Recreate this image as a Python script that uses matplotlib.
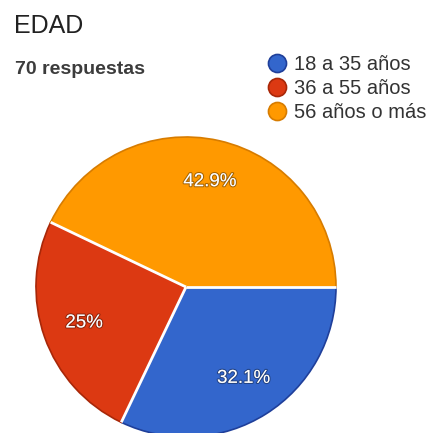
import numpy as np
import matplotlib
matplotlib.use("Agg")
import matplotlib.pyplot as plt
import matplotlib.patheffects as pe
from matplotlib.lines import Line2D

plt.rcParams['font.family'] = ['Liberation Sans', 'DejaVu Sans']

# data
labels = ["18 a 35 años", "36 a 55 años", "56 años o más"]
values = [32.1, 25.0, 42.9]
pct_text = ["32.1%", "25%", "42.9%"]
colors = ["#3366CC", "#DC3912", "#FF9900"]
edge_colors = ["#1f3f9a", "#a82708", "#d77c00"]

fig = plt.figure(figsize=(4.34, 4.33), dpi=100)

# pie axes: centre ~ (186, 287) px from top, radius ~150 px
W, H = 434, 433
ax = fig.add_axes([36 / W, (H - 287 - 150) / H, 300 / W, 300 / H])

wedges, texts = ax.pie(values, colors=colors, startangle=0, counterclock=False,
                       radius=1.0, center=(0, 0),
                       wedgeprops=dict(linewidth=1.2))
ax.set_xlim(-1, 1)
ax.set_ylim(-1, 1)
ax.set_aspect("equal")
ax.axis("off")

for w, ec in zip(wedges, edge_colors):
    w.set_edgecolor(ec)
    w.set_clip_on(False)

# white separators between slices
for w in wedges:
    t = np.deg2rad(w.theta1)
    ax.plot([0, np.cos(t)], [0, np.sin(t)], color="white", lw=2.0,
            solid_capstyle="butt", clip_on=False, zorder=3)

# percentage labels
for w, txt in zip(wedges, pct_text):
    mid = np.deg2rad((w.theta1 + w.theta2) / 2)
    ax.text(0.72 * np.cos(mid), 0.72 * np.sin(mid), txt, color="white",
            fontsize=13.5, ha="center", va="center", zorder=4,
            path_effects=[pe.withStroke(linewidth=1.6, foreground="#00000055")])

# header texts
fig.text(14 / W, 1 - 26 / H, "EDAD", fontsize=18, color="#212121",
         ha="left", va="center")
fig.text(15 / W, 1 - 69 / H, "70 respuestas", fontsize=14, color="#3c3c3c",
         fontweight="bold", ha="left", va="center")

# legend
handles = [Line2D([], [], marker="o", linestyle="", markersize=13,
                  markerfacecolor=c, markeredgecolor=ec, markeredgewidth=1.2)
           for c, ec in zip(colors, edge_colors)]
fig.legend(handles, labels, loc="upper left",
           bbox_to_anchor=(267 / W, 1 - 55 / H), frameon=False,
           fontsize=14.5, labelcolor="#333333", handlelength=1.0,
           handletextpad=0.35, labelspacing=0.25, borderaxespad=0,
           borderpad=0)

fig.savefig("out.png", dpi=100)
